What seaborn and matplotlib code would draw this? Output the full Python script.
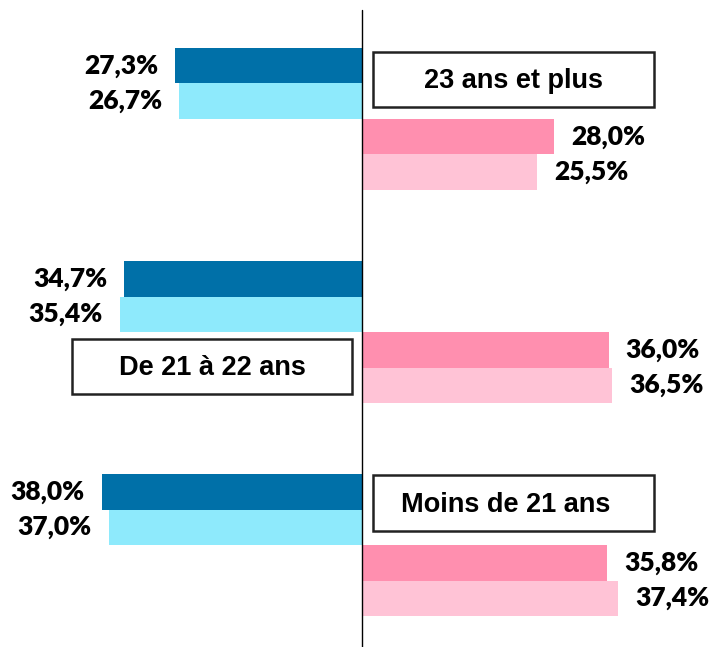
import pandas as pd
import matplotlib.pyplot as plt
import seaborn as sns
from matplotlib.patches import Rectangle

# Values (percent)
groups = ["23 ans et plus", "De 21 à 22 ans", "Moins de 21 ans"]
gauche_fonce = [27.3, 34.7, 38.0]
gauche_clair = [26.7, 35.4, 37.0]
droite_fonce = [28.0, 36.0, 35.8]
droite_clair = [25.5, 36.5, 37.4]

series = ["gauche_fonce", "gauche_clair", "droite_fonce", "droite_clair"]
colors = ["#0070A8", "#8EEAFC", "#FF8FAF", "#FFC3D6"]

rows = []
for g in range(len(groups)):
    vals = [gauche_fonce[g], gauche_clair[g], droite_fonce[g], droite_clair[g]]
    for k, (s, v) in enumerate(zip(series, vals)):
        sign = -1 if k < 2 else 1
        rows.append({"groupe": groups[g], "pos": g * 6 + k, "serie": s, "valeur": sign * v})
df = pd.DataFrame(rows)

sns.set_style("white")
fig = plt.figure(figsize=(7.13, 6.47), dpi=100)
ax = fig.add_axes([0, 0, 1, 1])

sns.barplot(data=df, x="valeur", y="pos", hue="serie", hue_order=series,
            palette=colors, saturation=1, orient="h", native_scale=True, dodge=False,
            width=1, errorbar=None, linewidth=0, legend=False, ax=ax)

ax.set_xlim(-52.85, 51.24)
ax.set_ylim(16.37, -1.85)
ax.axis("off")
ax.axvline(0, ymin=0, ymax=0.985, color="black", lw=1)

# value labels
for _, r in df.iterrows():
    v = r["valeur"]
    txt = f"{abs(v):.1f}".replace(".", ",") + "%"
    if v < 0:
        ax.text(v - 2.5, r["pos"], txt, ha="right", va="center", color="black",
                fontsize=19, fontweight="heavy", family="Lato")
    else:
        ax.text(v + 2.5, r["pos"], txt, ha="left", va="center", color="black",
                fontsize=19, fontweight="heavy", family="Lato")

# group label boxes: (x0, x1, y0, y1 relative to group start, text x)
boxes = [(1.6, 42.6, -0.39, 1.16, 22.1),
         (-42.3, -1.46, 1.70, 3.25, -21.9),
         (1.6, 42.6, -0.47, 1.10, 21.0)]
for g, (x0, x1, y0, y1, tx) in enumerate(boxes):
    base = g * 6
    ax.add_patch(Rectangle((x0, base + y0), x1 - x0, y1 - y0, fill=False,
                           edgecolor="#222222", lw=1.8))
    ax.text(tx, base + (y0 + y1) / 2 + 0.05, groups[g], ha="center", va="center",
            fontsize=19.5, fontweight="bold", family="Liberation Sans", color="black")

fig.savefig("out.png", dpi=100)
